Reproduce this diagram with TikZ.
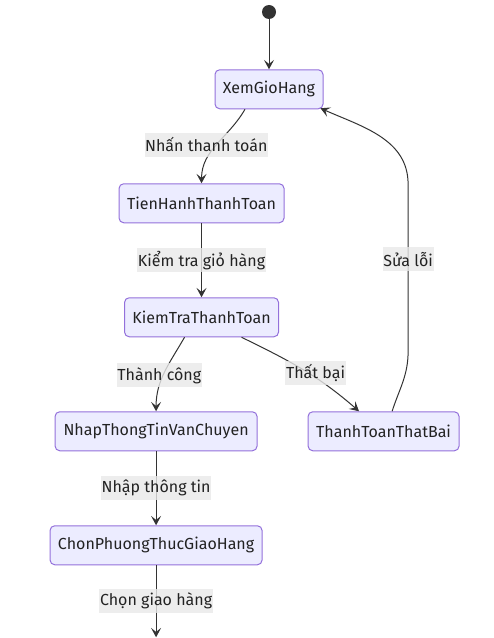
\documentclass[tikz,border=0pt]{standalone}
\usepackage{fontspec}
\setmainfont{Fira Sans}
\usetikzlibrary{positioning, arrows.meta, calc}
\definecolor{nenTrangThai}{HTML}{ECECFF}
\definecolor{vienTrangThai}{HTML}{9370DB}
\definecolor{mauDuong}{HTML}{333333}
\definecolor{nenNhan}{HTML}{E8E8E8}
\definecolor{mauChu}{HTML}{222222}
\tikzset{
  state/.style={rectangle, rounded corners=3.5pt, minimum height=29.25pt, inner sep=0pt, text centered, draw=vienTrangThai, line width=0.75pt, fill=nenTrangThai, text=mauChu},
  startnode/.style={circle, fill=mauDuong, minimum size=10.5pt, inner sep=0pt},
  edgelabel/.style={fill=nenNhan, fill opacity=0.8, text opacity=1, text=mauChu, inner xsep=0.5pt, inner ysep=0pt, minimum height=18pt},
  arrow/.style={draw=mauDuong, line width=0.75pt, -{Stealth[length=7pt, width=7.5pt, inset=3pt]}}
}

\begin{document}
\begin{tikzpicture}[
            x=0.75pt, y=0.75pt,
            node distance=55.5pt and 37.5pt,
            every node/.style={font=\fontsize{12}{14}\selectfont}
        ]
            \useasboundingbox (0,0) rectangle (493,-638);

            % Trang thai bat dau
            \node (start) [startnode] at (269,-12) {};

            % Cac trang thai chinh
            \node (xem) [state, minimum width=81pt, below=37.5pt of start] {XemGioHang};
            \node (tien) [state, minimum width=123.75pt, below=of xem, xshift=-50.6pt] {TienHanhThanhToan};
            \node (kiem) [state, minimum width=115.5pt, below=of tien] {KiemTraThanhToan};
            \node (nhap) [state, minimum width=151.5pt, below=of kiem, xshift=-34.1pt] {NhapThongTinVanChuyen};
            \node (that) [state, minimum width=113.25pt, right=of nhap] {ThanhToanThatBai};
            \node (chon) [state, minimum width=159pt, below=of nhap] {ChonPhuongThucGiaoHang};
            \coordinate [below=54pt of chon] (cuoi);

            % Chuyen trang thai
            \draw [arrow] (start) -- (xem);
            \draw [arrow] ([xshift=-18pt]xem.south) to[out=-120, in=90] node[edgelabel, xshift=-8pt] {Nhấn thanh toán} (tien.north);
            \draw [arrow] (tien) -- node[edgelabel] {Kiểm tra giỏ hàng} (kiem);
            \draw [arrow] ([xshift=-12.75pt]kiem.south) to[out=-120, in=90] node[edgelabel, pos=0.54, xshift=-3pt] {Thành công} (nhap.north);
            \draw [arrow] ([xshift=30pt]kiem.south) to[out=-26, in=139] node[edgelabel, pos=0.54, xshift=6pt] {Thất bại} ([xshift=-18.4pt]that.north);
            \draw [arrow] (nhap) -- node[edgelabel] {Nhập thông tin} (chon);

            % Quay lai gio hang khi that bai
            \draw [arrow] ([xshift=6.4pt]that.north) to[out=72, in=-90] ++(16,60) -- node[edgelabel, pos=0.55] {Sửa lỗi} ++(0,167)
                to[out=90, in=-24] ([shift={(-2.25pt,0.75pt)}]xem.south east);

            \draw [arrow] (chon) -- node[edgelabel] {Chọn giao hàng} (cuoi);
        \end{tikzpicture}
\end{document}
